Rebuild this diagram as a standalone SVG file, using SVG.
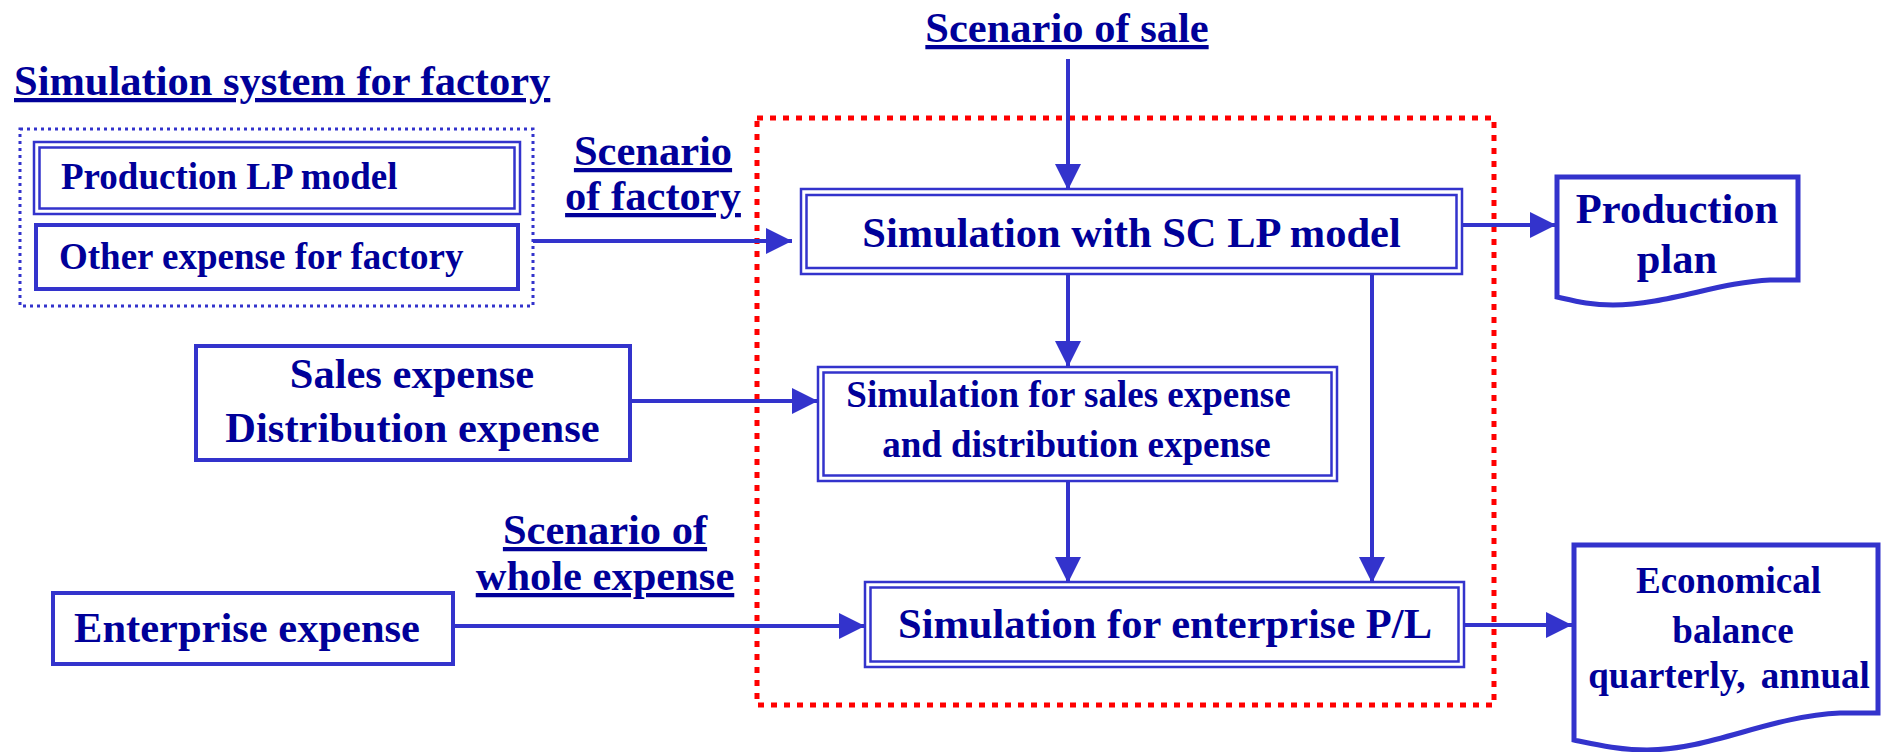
<svg xmlns="http://www.w3.org/2000/svg" width="1885" height="752" viewBox="0 0 1885 752">
<style>
  text { font-family: "Liberation Serif", "Times New Roman", serif; font-weight: bold; fill: #000099; }
  .big { font-size: 42.5px; }
  .mid { font-size: 37px; }
  .c { text-anchor: middle; }
  .u { text-decoration: underline; }
  .box { fill: #ffffff; stroke: #3333CC; stroke-width: 4; }
  .dbl { fill: none; stroke: #3333CC; stroke-width: 2.5; }
  .doc { fill: #ffffff; stroke: #3333CC; stroke-width: 5; stroke-linejoin: miter; }
  .conn { fill: none; stroke: #3333CC; stroke-width: 4; marker-end: url(#ah); }
  .plain { fill: none; stroke: #3333CC; stroke-width: 4; }
</style>
<defs>
  <marker id="ah" markerUnits="userSpaceOnUse" markerWidth="27" markerHeight="26" refX="26" refY="13" orient="auto">
    <path d="M0,0 L26,13 L0,26 z" fill="#3333CC"/>
  </marker>
</defs>
<rect x="0" y="0" width="1885" height="752" fill="#ffffff"/>

<!-- red dotted boundary -->
<rect id="boundary" x="757" y="118" width="737" height="587" fill="none" stroke="#FF0000" stroke-width="5" stroke-dasharray="6 7"/>

<!-- labels -->
<g id="labels">
  <text class="big u" x="14" y="95">Simulation system for factory</text>
  <text class="big c u" x="653" y="165">Scenario</text>
  <text class="big c u" x="653" y="210">of factory</text>
  <text class="big c u" x="1067" y="42">Scenario of sale</text>
  <text class="big c u" x="605" y="544">Scenario of</text>
  <text class="big c u" x="605" y="590">whole expense</text>
</g>

<g id="connectors">
  <line class="conn" x1="533" y1="241" x2="792" y2="241"/>
  <line class="conn" x1="1068" y1="59" x2="1068" y2="190"/>
  <line class="conn" x1="1462" y1="225" x2="1556" y2="225"/>
  <line class="conn" x1="1068" y1="274" x2="1068" y2="367"/>
  <line class="conn" x1="630" y1="401" x2="818" y2="401"/>
  <line class="conn" x1="1068" y1="481" x2="1068" y2="583"/>
  <line class="conn" x1="1372" y1="274" x2="1372" y2="583"/>
  <line class="conn" x1="453" y1="626" x2="865" y2="626"/>
  <line class="conn" x1="1464" y1="625" x2="1572" y2="625"/>
</g>

<g id="factory-system">
  <rect x="20" y="129" width="513" height="177" fill="none" stroke="#3333CC" stroke-width="3" stroke-dasharray="3 4"/>
</g>

<g id="production-lp">
  <rect class="dbl" x="34" y="142" width="486" height="72" fill="#fff"/>
  <rect class="dbl" x="39.5" y="147.5" width="475" height="61"/>
  <text class="mid" x="61" y="189">Production LP model</text>
</g>

<g id="other-expense">
  <rect class="box" x="36" y="225" width="482" height="64"/>
  <text class="mid" x="59" y="269">Other expense for factory</text>
</g>

<g id="sc-lp">
  <rect class="dbl" x="801" y="189" width="661" height="85" style="fill:#fff"/>
  <rect class="dbl" x="806.5" y="195" width="650" height="73"/>
  <text class="big c" x="1131.5" y="247">Simulation with SC LP model</text>
</g>

<g id="sales-expense">
  <rect class="box" x="196" y="346" width="434" height="114"/>
  <text class="big c" x="412" y="388">Sales expense</text>
  <text class="big c" x="412.5" y="442">Distribution expense</text>
</g>

<g id="sim-sales">
  <rect class="dbl" x="818" y="367" width="519" height="114" style="fill:#fff"/>
  <rect class="dbl" x="823.5" y="372.5" width="508" height="103"/>
  <text class="mid c" x="1068.5" y="407">Simulation for sales expense</text>
  <text class="mid c" x="1076.5" y="457">and distribution expense</text>
</g>

<g id="enterprise-expense">
  <rect class="box" x="53" y="593" width="400" height="71"/>
  <text class="big c" x="247" y="642">Enterprise expense</text>
</g>

<g id="sim-pl">
  <rect class="dbl" x="865" y="582" width="599" height="85" style="fill:#fff"/>
  <rect class="dbl" x="870.5" y="587.5" width="588" height="74"/>
  <text class="big c" x="1165" y="638">Simulation for enterprise P/L</text>
</g>

<g id="production-plan">
  <path class="doc" d="M1557,177 L1798,177 L1798,280 L1770,280 C1720,282 1665,305 1613,305 C1590,305 1575,301 1557,297 Z"/>
  <text class="big c" x="1677" y="223">Production</text>
  <text class="big c" x="1677" y="273">plan</text>
</g>

<g id="economical-balance">
  <path class="doc" d="M1574,545 L1878,545 L1878,713 L1840,713 C1770,716 1710,750 1647,750 C1620,750 1598,745 1574,740 Z"/>
  <text class="mid c" x="1728.5" y="593">Economical</text>
  <text class="mid c" x="1733" y="643">balance</text>
  <text class="mid c" x="1729" y="688" style="word-spacing:6px">quarterly, annual</text>
</g>
</svg>
